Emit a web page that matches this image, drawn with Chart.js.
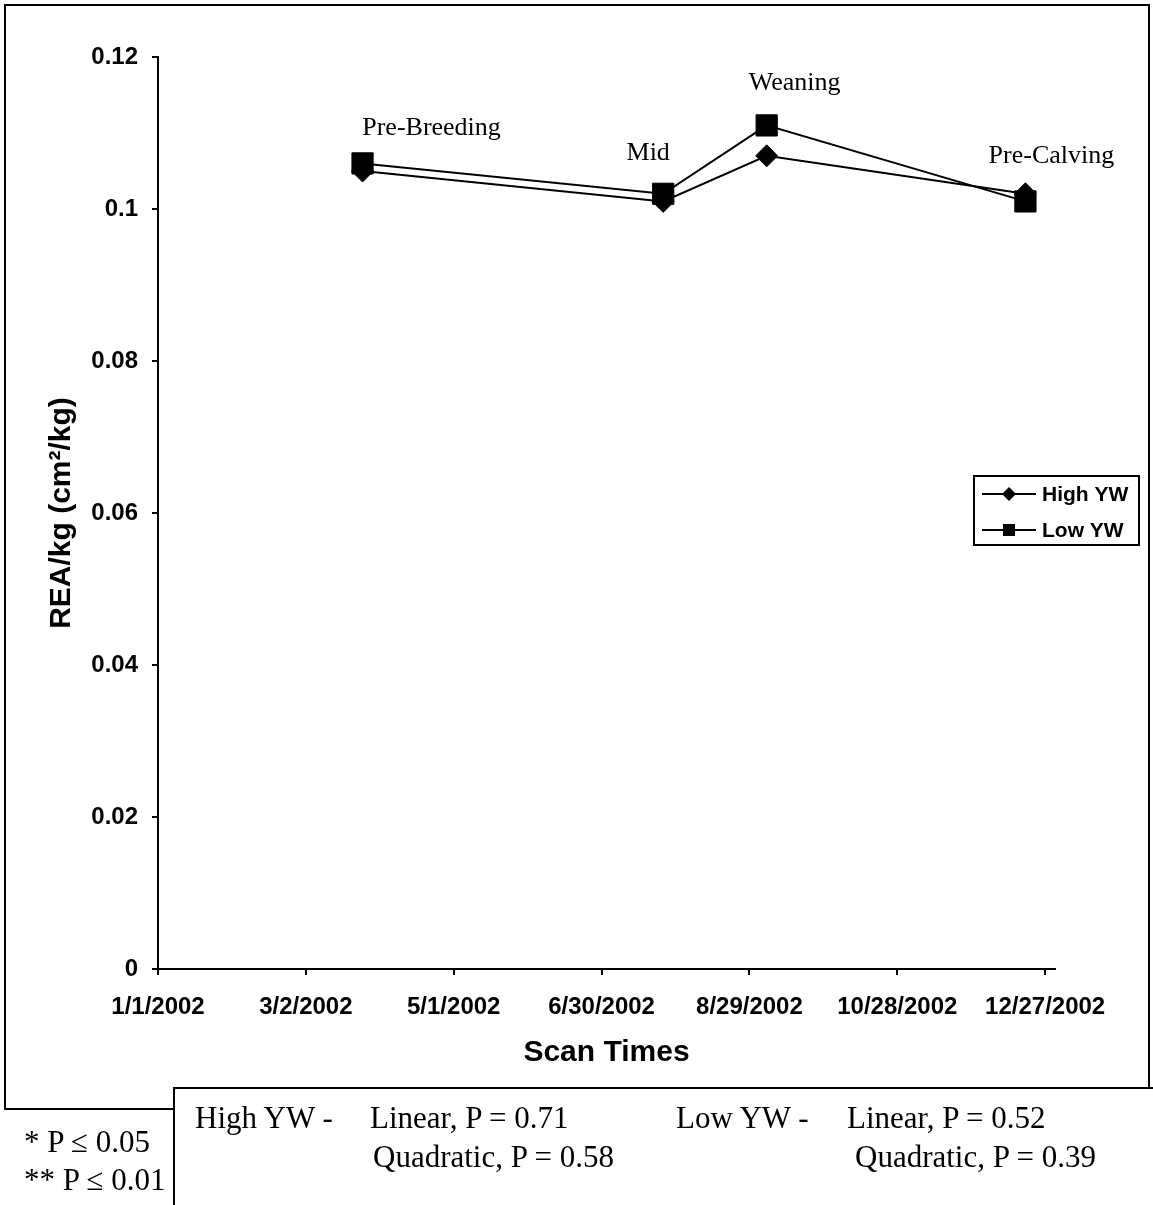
<!DOCTYPE html>
<html>
<head>
<meta charset="utf-8">
<title>REA/kg by scan time</title>
<script src="https://cdn.jsdelivr.net/npm/chart.js@4.4.1/dist/chart.umd.min.js"></script>
<style>
  body { margin: 0; background: #fff; }
  #wrap { position: relative; width: 1153px; height: 1205px; overflow: hidden; }
  #frame { position: absolute; left: 4px; top: 4px; width: 1146px; height: 1106px; border: 2px solid #000; box-sizing: border-box; }
  #chart { position: absolute; left: 0; top: 0; }
  #stats { position: absolute; left: 173px; top: 1087px; width: 1100px; height: 200px; border-left: 2px solid #000; border-top: 2px solid #000; background: #fff; }
  .t { position: absolute; font: 31px/31px "Liberation Serif", "Times New Roman", serif; color: #000; white-space: pre; }
</style>
</head>
<body>
<div id="wrap">
  <div id="frame"></div>
  <canvas id="chart" width="1153" height="1205"></canvas>
  <div class="t" style="left:24px; top:1126px;">* P ≤ 0.05</div>
  <div class="t" style="left:24px; top:1164px;">** P ≤ 0.01</div>
  <div id="stats"></div>
  <div class="t" style="left:195px; top:1102px;">High YW -</div>
  <div class="t" style="left:370px; top:1102px;">Linear, P = 0.71</div>
  <div class="t" style="left:373px; top:1141px;">Quadratic, P = 0.58</div>
  <div class="t" style="left:676px; top:1102px;">Low YW -</div>
  <div class="t" style="left:847px; top:1102px;">Linear, P = 0.52</div>
  <div class="t" style="left:855px; top:1141px;">Quadratic, P = 0.39</div>
</div>
<script>
// scan times and REA per kg for the two yearling weight groups
const scanNames = ['Pre-Breeding', 'Mid', 'Weaning', 'Pre-Calving'];
const scanDates = ['2002-03-25', '2002-07-25', '2002-09-05', '2002-12-19'];
const highYW = [0.105, 0.101, 0.107, 0.102];
const lowYW = [0.106, 0.102, 0.111, 0.101];

// axis ticks
const xTickDates = ['2002-01-01', '2002-03-02', '2002-05-01', '2002-06-30', '2002-08-29', '2002-10-28', '2002-12-27'];
const xAxisEnd = '2002-12-31';
const yTicks = [0, 0.02, 0.04, 0.06, 0.08, 0.1, 0.12];

// days counted from 1 Jan 2002
const baseDate = Date.UTC(2002, 0, 1);
function dayOf(s) {
    const [y, m, d] = s.split('-').map(Number);
    return (Date.UTC(y, m - 1, d) - baseDate) / 86400000;
}
function fmtDate(day) {
    const d = new Date(baseDate + day * 86400000);
    return (d.getUTCMonth() + 1) + '/' + d.getUTCDate() + '/' + d.getUTCFullYear();
}

const sans = "'Liberation Sans', Arial, sans-serif";
const serif = "'Liberation Serif', 'Times New Roman', serif";

// label placement next to each Low YW point (px)
const labelOffsets = [[69, -35], [-15, -41], [28, -42], [26, -45]];

const scanLabels = {
    id: 'scanLabels',
    afterDatasetsDraw(chart) {
        const ctx = chart.ctx;
        const xs = chart.scales.x, ys = chart.scales.y;
        ctx.save();
        ctx.font = '26px ' + serif;
        ctx.fillStyle = '#000';
        ctx.textAlign = 'center';
        ctx.textBaseline = 'middle';
        scanNames.forEach((name, i) => {
            const px = xs.getPixelForValue(dayOf(scanDates[i])) + labelOffsets[i][0];
            const py = ys.getPixelForValue(lowYW[i]) + labelOffsets[i][1];
            ctx.fillText(name, px, py);
        });
        ctx.restore();
    }
};

// boxed legend with line + marker samples
const boxLegend = {
    id: 'boxLegend',
    afterDraw(chart) {
        const ctx = chart.ctx;
        ctx.save();
        ctx.strokeStyle = '#000';
        ctx.lineWidth = 2;
        ctx.strokeRect(974, 476, 165, 69);
        ctx.font = 'bold 21px ' + sans;
        ctx.fillStyle = '#000';
        ctx.textBaseline = 'middle';
        chart.data.datasets.forEach((ds, i) => {
            const y = 494 + i * 36;
            ctx.beginPath();
            ctx.moveTo(982, y);
            ctx.lineTo(1036, y);
            ctx.stroke();
            ctx.beginPath();
            if (ds.pointStyle === 'rectRot') {
                ctx.moveTo(1009 - 7, y);
                ctx.lineTo(1009, y - 7);
                ctx.lineTo(1009 + 7, y);
                ctx.lineTo(1009, y + 7);
                ctx.closePath();
            } else {
                ctx.rect(1009 - 6, y - 6, 12, 12);
            }
            ctx.fill();
            ctx.fillText(ds.label, 1042, y + 1);
        });
        ctx.restore();
    }
};

new Chart(document.getElementById('chart'), {
    type: 'line',
    data: {
        datasets: [{
            label: 'High YW',
            data: scanDates.map((s, i) => ({ x: dayOf(s), y: highYW[i] })),
            borderColor: '#000',
            borderWidth: 2,
            pointStyle: 'rectRot',
            pointRadius: 11,
            pointBorderWidth: 1,
            pointBackgroundColor: '#000',
            pointBorderColor: '#000',
            order: 2
        }, {
            label: 'Low YW',
            data: scanDates.map((s, i) => ({ x: dayOf(s), y: lowYW[i] })),
            borderColor: '#000',
            borderWidth: 2,
            pointStyle: 'rect',
            pointRadius: 15,
            pointBorderWidth: 1,
            pointBackgroundColor: '#000',
            pointBorderColor: '#000',
            order: 1
        }]
    },
    options: {
        responsive: false,
        animation: false,
        layout: { padding: { left: 0, top: 57, right: 98, bottom: 120 } },
        scales: {
            x: {
                type: 'linear',
                min: 0,
                max: dayOf(xAxisEnd),
                afterBuildTicks: axis => { axis.ticks = xTickDates.map(s => ({ value: dayOf(s) })); },
                afterFit: axis => { axis.height = 116; },
                ticks: {
                    callback: v => fmtDate(v),
                    autoSkip: false,
                    maxRotation: 0,
                    padding: 18,
                    color: '#000',
                    font: { family: sans, size: 24, weight: 'bold' }
                },
                grid: { drawOnChartArea: false, tickLength: 6, color: '#000', lineWidth: 2 },
                border: { color: '#000', width: 2 },
                title: {
                    display: true,
                    text: 'Scan Times',
                    color: '#000',
                    padding: { top: 0, bottom: 14 },
                    font: { family: sans, size: 30, weight: 'bold' }
                }
            },
            y: {
                min: 0,
                max: 0.12,
                afterBuildTicks: axis => { axis.ticks = yTicks.map(v => ({ value: v })); },
                afterFit: axis => { axis.width = 158; },
                ticks: {
                    callback: v => String(v),
                    padding: 14,
                    color: '#000',
                    font: { family: sans, size: 24, weight: 'bold' }
                },
                grid: { drawOnChartArea: false, tickLength: 6, color: '#000', lineWidth: 2 },
                border: { color: '#000', width: 2 },
                title: {
                    display: true,
                    text: 'REA/kg (cm²/kg)',
                    color: '#000',
                    padding: { top: 44, bottom: 0 },
                    font: { family: sans, size: 30, weight: 'bold' }
                }
            }
        },
        plugins: {
            legend: { display: false },
            tooltip: { enabled: false }
        }
    },
    plugins: [scanLabels, boxLegend]
});
</script>
</body>
</html>
